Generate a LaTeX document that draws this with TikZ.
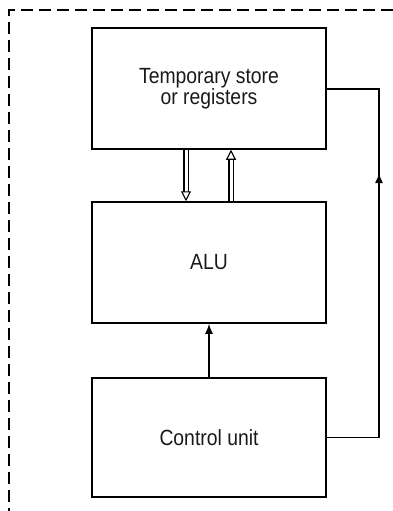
\documentclass[tikz,border=0pt]{standalone}
\usepackage{fontspec}
\setmainfont{Liberation Sans}[FakeStretch=0.88]
\usetikzlibrary{arrows.meta}
\begin{document}
\begin{tikzpicture}[x=1pt,y=-1pt,
  unitbox/.style={draw, line width=1.5pt, minimum width=234pt, minimum height=121pt,
    inner sep=0pt, align=center, font=\fontsize{22}{21}\selectfont, text=black!90},
  frameline/.style={line width=1.5pt, dash pattern=on 12pt off 6pt},
  dbl/.style={double, double distance=3pt, line width=1.1pt, -{Triangle[open,length=10pt,width=10pt,line width=1.1pt]}},
  conn/.style={line width=1.5pt}]
\useasboundingbox (0,0) rectangle (392,511);
\coordinate (fb) at (9,520);
\coordinate (fc) at (9,10);
\coordinate (fr) at (400,10);
\draw[frameline] (fb) -- (fc) -- (fr);
\node[unitbox] (reg) at (209,88.5) {Temporary store\\or registers};
\node[unitbox] (alu) at (209,262.5) {ALU};
\node[unitbox, minimum height=119pt] (cu) at (209,437.5) {Control unit};
\draw[dbl] ([xshift=-23pt]reg.south) -- ([xshift=-23pt]alu.north);
\draw[dbl] ([xshift=22pt]alu.north) -- ([xshift=22pt]reg.south);
\draw[conn, -{Latex[length=10pt,width=8pt]}] (cu.north) -- (alu.south);
\coordinate (rb) at (379,437.5);
\coordinate (rt) at (379,89);
\coordinate (rm) at (379,173);
\draw[conn] (cu.east) -- (rb) -- (rt) -- (reg.east |- rt);
\draw[conn, -{Latex[length=10pt,width=8pt]}] (rb) -- (rm);
\end{tikzpicture}
\end{document}
